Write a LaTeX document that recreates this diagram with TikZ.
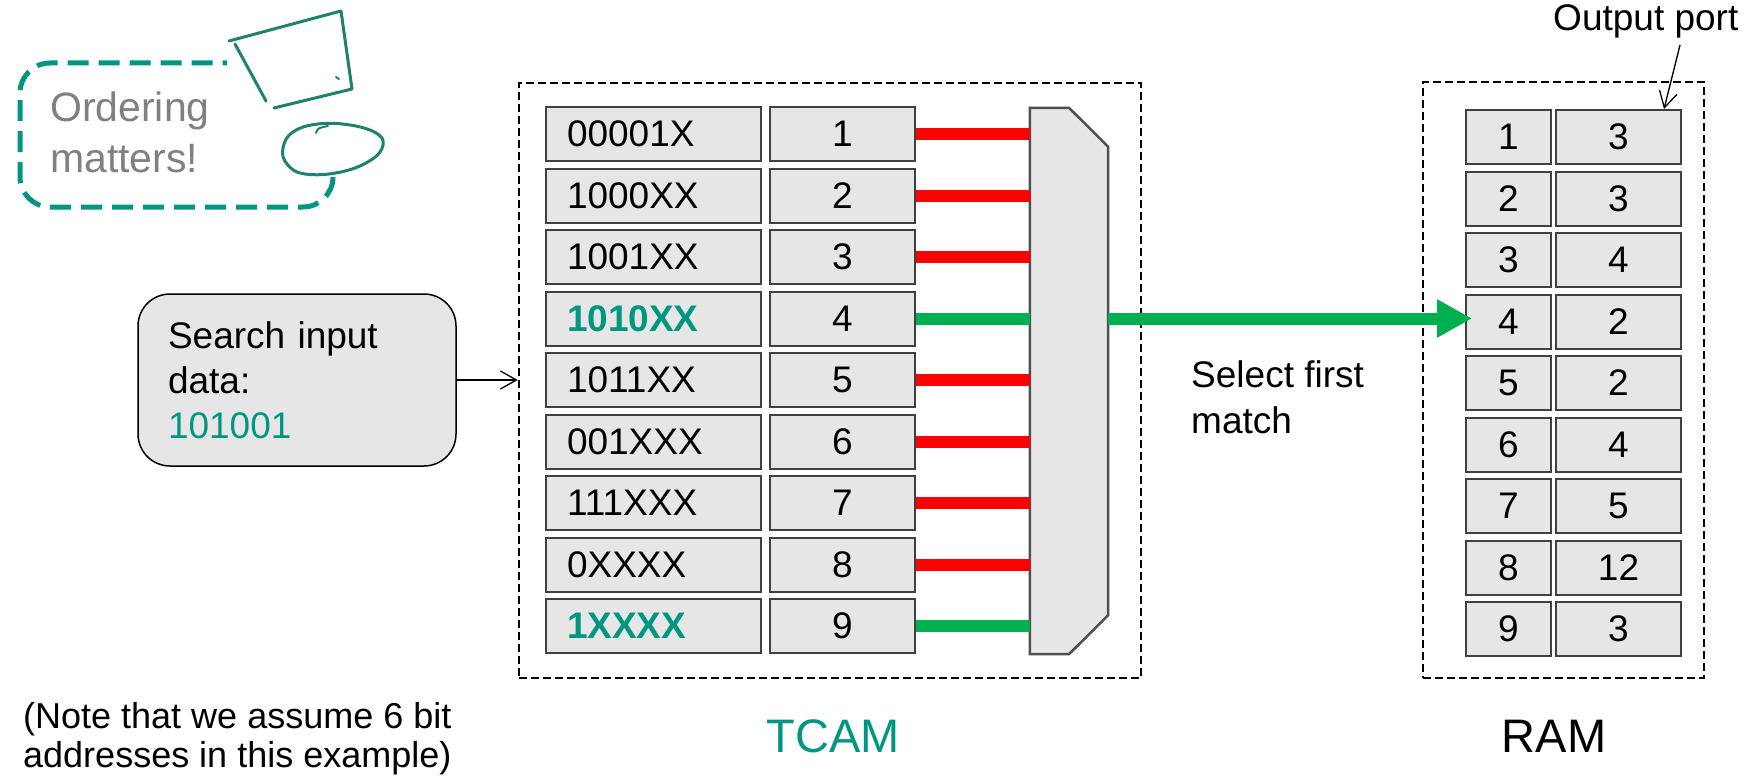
\documentclass[tikz,border=0pt]{standalone}
\usepackage{fontspec}
\setmainfont{Liberation Sans}
\usetikzlibrary{arrows.meta,calc}

\definecolor{tealmain}{RGB}{0,150,130}
\definecolor{penteal}{RGB}{30,130,110}
\definecolor{cellgray}{RGB}{230,230,230}
\definecolor{cellline}{RGB}{64,64,64}
\definecolor{muxline}{RGB}{80,80,80}
\definecolor{hitgreen}{RGB}{0,176,80}
\definecolor{missred}{RGB}{255,0,0}
\definecolor{notegray}{RGB}{128,128,128}

\newcommand{\fsmain}{\fontsize{37}{45}\selectfont}

\begin{document}
\begin{tikzpicture}[x=1pt,y=-1pt,
  cell/.style={draw=cellline, line width=2pt, fill=cellgray, minimum height=54pt, inner sep=0pt, font=\fsmain},
  prefixcell/.style={cell, text width=173pt, align=left, inner xsep=21pt},
  numcell/.style={cell, minimum width=145pt},
  ramA/.style={cell, minimum width=85pt},
  ramB/.style={cell, minimum width=125pt},
  plainrow/.style={},
  hitrow/.style={text=tealmain, font=\fsmain\bfseries},
  dashframe/.style={draw=black, line width=2.5pt, dash pattern=on 8pt off 4pt, inner sep=0pt},
  wire/.style={line width=12pt},
  thinarrow/.style={line width=1.3pt, -{Straight Barb[length=16pt,width=18pt]}},
  handpen/.style={penteal, line width=3pt, line join=round, line cap=round}
]
\useasboundingbox (0,0) rectangle (1745,776);

% dashed enclosures
\node[dashframe, minimum width=622pt, minimum height=595pt] (tcam) at (830,380.5) {};
\node[dashframe, minimum width=281pt, minimum height=596pt] (ram) at (1563.5,380) {};

% priority encoder
\node[minimum width=78pt, minimum height=546pt, inner sep=0pt] (mux) at (1069,381) {};
\draw[fill=cellgray, draw=muxline, line width=2.5pt, line join=miter]
  (mux.north west) -- (mux.north) -- ($(mux.north east)+(0,39)$)
  -- ($(mux.south east)+(0,-39)$) -- (mux.south) -- (mux.south west) -- cycle;

% TCAM entries and match lines
\foreach \i/\pat/\col/\st in {1/00001X/missred/plainrow, 2/1000XX/missred/plainrow,
    3/1001XX/missred/plainrow, 4/1010XX/hitgreen/hitrow, 5/1011XX/missred/plainrow,
    6/001XXX/missred/plainrow, 7/111XXX/missred/plainrow, 8/0XXXX/missred/plainrow,
    9/1XXXX/hitgreen/hitrow}{
  \node[prefixcell, \st] (p\i) at (653.5,{134+(\i-1)*61.5}) {\pat};
  \node[numcell] (n\i) at (842.5,{134+(\i-1)*61.5}) {\i};
  \draw[wire, draw=\col] (n\i.east) -- (n\i.east -| mux.west);
}

% RAM contents
\foreach \i/\port in {1/3, 2/3, 3/4, 4/2, 5/2, 6/4, 7/5, 8/12, 9/3}{
  \node[ramA] (r\i) at (1508.5,{137+(\i-1)*61.5}) {\i};
  \node[ramB] (o\i) at (1618.5,{137+(\i-1)*61.5}) {\port};
}

% selected match to RAM
\draw[wire, draw=hitgreen, -{Triangle[length=35pt,width=36pt]}]
  (mux.east |- n4.east) -- ($(r4.west |- n4.east)+(7,0)$);

% search key
\node[draw=black, line width=1.5pt, fill=cellgray, rounded corners=32pt,
      minimum height=172pt, text width=258pt, align=left, inner xsep=30pt,
      font=\fsmain] (search) at (297,380)
  {Search input\\data:\\\textcolor{tealmain}{101001}};
\draw[thinarrow] (search.east) -- (search.east -| tcam.west);

% labels
\node[anchor=north west, align=left, inner sep=0pt, font=\fontsize{37}{46}\selectfont] (sel) at (1191,360) {Select first\\match};
\node[anchor=base west, inner sep=0pt, font=\fsmain] (outlbl) at (1553,31) {Output port};
\coordinate (opstart) at (1680,45);
\draw[thinarrow] (opstart) -- ($(o1.north east)+(-18,0)$);
\node[anchor=base, inner sep=0pt, text=tealmain, font=\fontsize{47}{56}\selectfont] (tcamlbl) at (833,752) {TCAM};
\node[anchor=base, inner sep=0pt, font=\fontsize{47}{56}\selectfont] (ramlbl) at (1554,752) {RAM};
\node[anchor=north west, align=left, inner sep=0pt, font=\fontsize{36}{39}\selectfont] (note) at (23,702)
  {(Note that we assume 6 bit\\addresses in this example)};

% callout
\draw[tealmain, line width=5pt, dash pattern=on 21pt off 10pt, rounded corners=30pt]
  (333,177) -- (333,207) -- (20,207) -- (20,63) -- (227,63);
\node[anchor=north west, align=left, inner sep=0pt, text=notegray, font=\fontsize{41}{51}\selectfont] (ord) at (50,92) {Ordering\\matters!};

% hand-drawn marks
\draw[handpen] (229,41) -- (341,11) -- (352,89) -- (274,108);
\draw[handpen] (235,44) -- (266,101);
\draw[handpen, line width=2pt] (336,77) -- (339,79);
\draw[handpen] plot[smooth cycle, tension=0.7] coordinates
  {(283,148) (293,132) (318,124) (350,125) (376,133) (383,145) (371,160) (341,172) (305,174) (287,164)};
\draw[handpen, line width=2pt] (316,133) .. controls (318,128) .. (328,126);
\end{tikzpicture}
\end{document}
